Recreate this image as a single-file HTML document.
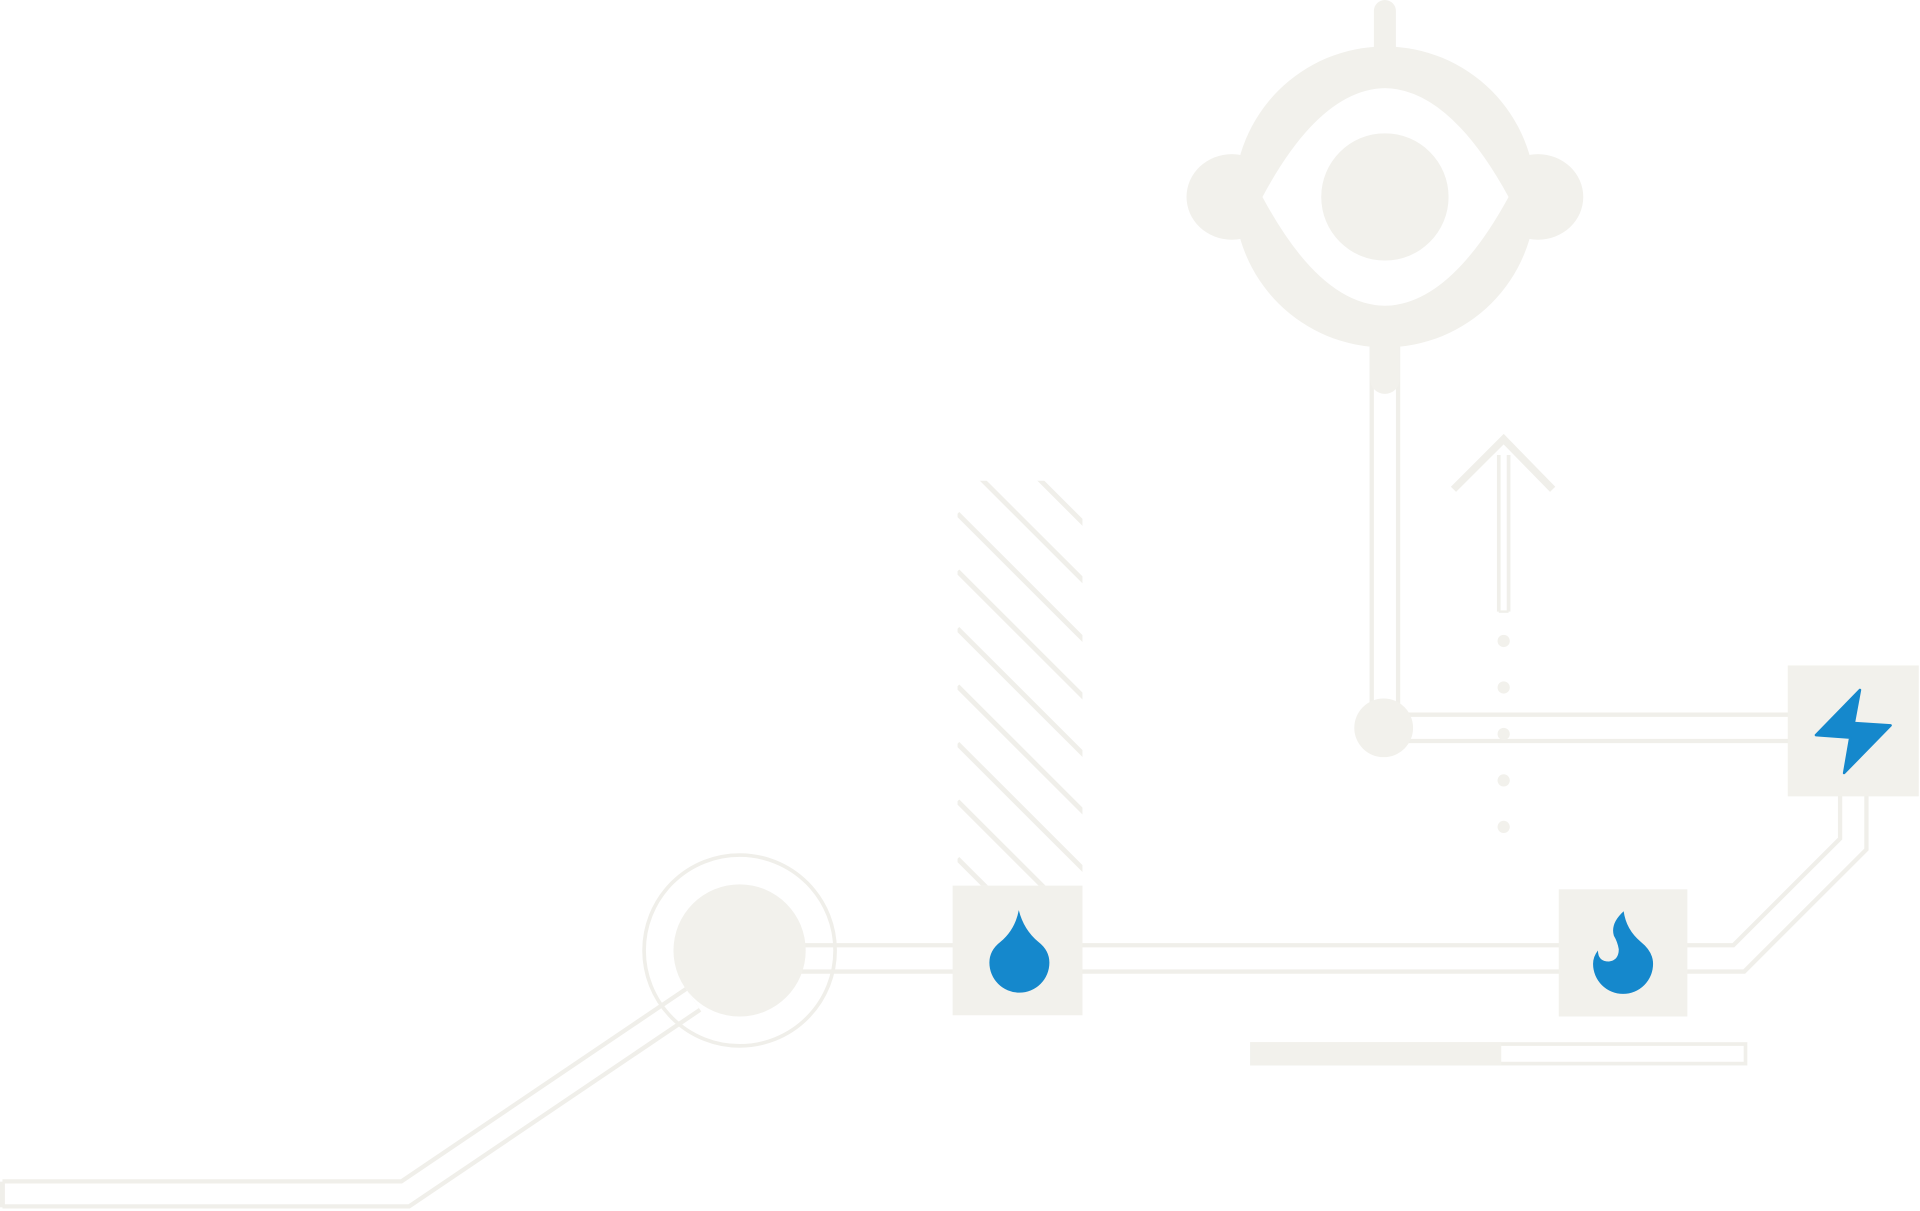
<!DOCTYPE html>
<html><head><style>html,body{margin:0;padding:0;background:#fff;}svg{display:block}</style></head>
<body>
<svg width="1920" height="1211" viewBox="0 0 1568 990" preserveAspectRatio="none" xmlns="http://www.w3.org/2000/svg">
<defs><clipPath id="h"><rect x="782" y="393" width="102" height="331"/></clipPath></defs>
<g fill="none" stroke-linejoin="miter">
<path d="M2 976 H331 L566 817" stroke="#f0efea" stroke-width="24"/>
<path d="M2 976 H331 L566 817" stroke="#fff" stroke-width="17"/>
<path d="M2 966 V987" stroke="#f0efea" stroke-width="4"/>
<path d="M600 783.5 H1420 L1513.5 690 V648" stroke="#f0efea" stroke-width="25"/>
<path d="M600 783.5 H1420 L1513.5 690 V648" stroke="#fff" stroke-width="18"/>
<path d="M1131 280 V595 H1462" stroke="#f0efea" stroke-width="25"/>
<path d="M1131 300 V595 H1462" stroke="#fff" stroke-width="18"/>
<g clip-path="url(#h)" stroke="#f0efea" stroke-width="4">
<path d="M782 325 L1000 543 M782 372 L1000 590 M782 420 L1000 638 M782 467 L1000 685 M782 514 L1000 732 M782 561 L1000 779 M782 608 L1000 826 M782 655 L1000 873 M782 702 L1000 920"/>
</g>
<circle cx="604" cy="777" r="78" stroke="#f0efea" stroke-width="3"/>
<path d="M1224 372 V500 M1232 372 V500" stroke="#f0efea" stroke-width="3"/>
<path d="M1224 500 H1232" stroke="#f0efea" stroke-width="2"/>
<path d="M1187 400 L1228 359 L1268 400" stroke="#f0efea" stroke-width="6"/>
<rect x="1022.5" y="853.5" width="403" height="16" stroke="#f0efea" stroke-width="3"/>
</g>
<g fill="#f2f1ec">
<circle cx="604" cy="777" r="54"/>
<rect x="778" y="724" width="106" height="106"/>
<rect x="1273" y="727" width="105" height="104"/>
<rect x="1460" y="544" width="107" height="107"/>
<rect x="1021" y="852" width="205" height="19"/>
<circle cx="1130" cy="595" r="24"/>
<circle cx="1228" cy="524" r="5"/><circle cx="1228" cy="562" r="5"/><circle cx="1228" cy="600" r="5"/><circle cx="1228" cy="638" r="5"/><circle cx="1228" cy="676" r="5"/>
<rect x="1122" y="0" width="18" height="50" rx="9"/>
<rect x="1119" y="270" width="24" height="52" rx="12"/>
<ellipse cx="1006" cy="161" rx="37" ry="35"/>
<ellipse cx="1256" cy="161" rx="37" ry="35"/>
<circle cx="1131" cy="161" r="123"/>
</g>
<path d="M1031 161 Q1078 73 1131 72 Q1184 73 1232 161 Q1184 249 1131 250 Q1078 249 1031 161 Z" fill="#fff"/>
<circle cx="1131" cy="161" r="52" fill="#f2f1ec"/>
<g fill="#1588cc" stroke="#1588cc" stroke-width="2" stroke-linejoin="round">
<path d="M832 744 Q836 760 848 770 Q857 777 857 787 A24.5 24.5 0 0 1 808 787 Q808 777 817 770 Q829 760 832 744 Z" stroke="none"/>
<path d="M1326 745 Q1328 760 1340 770 Q1350 778 1350 788 A24.5 24.5 0 0 1 1301 788 Q1301 782 1305 777 Q1305 786 1314 786 Q1322 785 1322 776 Q1321 770 1318 765 Q1315 755 1326 745 Z" stroke="none"/>
<path d="M1519 564 L1483 601 L1511 603 L1506 632 L1544 593 L1514 591 Z"/>
</g>
</svg>
</body></html>
